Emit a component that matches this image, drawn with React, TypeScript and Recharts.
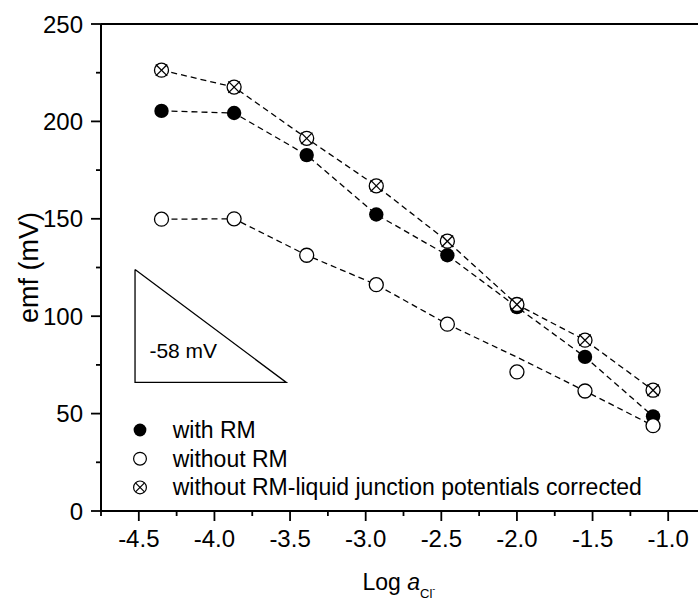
import { ComposedChart, Line, XAxis, YAxis, Legend, ReferenceDot, ReferenceLine } from 'recharts';

const FONT = '"Liberation Sans", Arial, Helvetica, sans-serif';

// log activity of chloride
const logA = [-4.35, -3.87, -3.39, -2.93, -2.46, -2.0, -1.55, -1.1];
// emf values (mV)
const withRM = [205.4, 204.3, 182.7, 152.2, 131.3, 104.7, 79.1, 48.6];
const withoutRM = [149.8, 150.0, 131.3, 116.2, 95.9, 71.4, 61.6, 43.8];
// dashed guide for "without RM" skips the outlier at -2.0
const withoutRMGuide = [149.8, 150.0, 131.3, 116.2, 95.9, 79.0, 61.6, 43.8];
const corrected = [226.3, 217.6, 191.3, 166.9, 138.5, 106.0, 87.7, 62.0];

const seriesNames = ['with RM', 'without RM', 'without RM-liquid junction potentials corrected'];

// -58 mV/decade slope triangle
const triangleX = [-4.525, -4.525, -3.525, -4.525];
const triangleY = [124, 66, 66, 124];
const slopeText = '-58 mV';
const slopeTextX = -4.43;
const slopeTextY = 78.3;

const xTicks = [-4.75, -4.5, -4.25, -4.0, -3.75, -3.5, -3.25, -3.0, -2.75, -2.5, -2.25, -2.0, -1.75, -1.5, -1.25, -1.0, -0.75];
const yTicks = [0, 25, 50, 75, 100, 125, 150, 175, 200, 225, 250];

const data = logA.map((x, i) => ({
  x,
  withRM: withRM[i],
  withoutRM: withoutRM[i],
  withoutRMGuide: withoutRMGuide[i],
  corrected: corrected[i],
}));

const triangle = triangleX.map((x, i) => ({ x, y: triangleY[i] }));

const XTick = ({ x, y, payload }: any) => {
  const v = payload.value;
  const major = Math.abs(v * 2 - Math.round(v * 2)) < 1e-6;
  return (
    <g>
      <line x1={x} x2={x} y1={y} y2={y + (major ? 10 : 5)} stroke="#000" strokeWidth={1.8} />
      {major && (
        <text x={x} y={y + 36} textAnchor="middle" fontSize={24} fontFamily={FONT} fill="#000">
          {v.toFixed(1)}
        </text>
      )}
    </g>
  );
};

const YTick = ({ x, y, payload }: any) => {
  const v = payload.value;
  const major = v % 50 === 0;
  return (
    <g>
      <line x1={x - (major ? 10 : 5)} x2={x} y1={y} y2={y} stroke="#000" strokeWidth={1.8} />
      {major && (
        <text x={x - 18} y={y + 8.5} textAnchor="end" fontSize={24} fontFamily={FONT} fill="#000">
          {v}
        </text>
      )}
    </g>
  );
};

const XTitle = ({ viewBox }: any) => {
  const cx = viewBox.x + viewBox.width / 2;
  return (
    <text x={cx - 41} y={viewBox.y + 79} fontSize={23} fontFamily={FONT} fill="#000">
      Log <tspan fontStyle="italic">a</tspan>
      <tspan fontSize={13} dy={8}>Cl</tspan>
      <tspan fontSize={9} dy={-6}>-</tspan>
    </text>
  );
};

const YTitle = ({ viewBox }: any) => {
  const cy = viewBox.y + viewBox.height / 2;
  const cx = 38;
  return (
    <text
      x={cx}
      y={cy}
      transform={`rotate(-90, ${cx}, ${cy})`}
      textAnchor="middle"
      fontSize={27}
      fontFamily={FONT}
      fill="#000"
    >
      emf (mV)
    </text>
  );
};

const SlopeLabel = ({ viewBox }: any) => (
  <text x={viewBox.x} y={viewBox.y} fontSize={21} fontFamily={FONT} fill="#000">
    {slopeText}
  </text>
);

const filledDot = (p: any) => <circle key={`f${p.index}`} cx={p.cx} cy={p.cy} r={7.2} fill="#000" />;

const openDot = (p: any) => (
  <circle key={`o${p.index}`} cx={p.cx} cy={p.cy} r={7} fill="#fff" stroke="#000" strokeWidth={1.3} />
);

const crossedDot = (p: any) => {
  const r = 7;
  const d = r * 0.82;
  return (
    <g key={`c${p.index}`}>
      <circle cx={p.cx} cy={p.cy} r={r} fill="#fff" stroke="#000" strokeWidth={1.3} />
      <line x1={p.cx - d} y1={p.cy - d} x2={p.cx + d} y2={p.cy + d} stroke="#000" strokeWidth={1.3} />
      <line x1={p.cx - d} y1={p.cy + d} x2={p.cx + d} y2={p.cy - d} stroke="#000" strokeWidth={1.3} />
    </g>
  );
};

const LegendBox = () => {
  const rowH = 28.7;
  const r = 6.4;
  const d = r * 0.7;
  return (
    <svg width={570} height={90} style={{ overflow: 'visible', display: 'block' }}>
      {seriesNames.map((name, i) => {
        const cy = 15 + i * rowH;
        return (
          <g key={name}>
            {i === 0 && <circle cx={12} cy={cy} r={r} fill="#000" />}
            {i === 1 && <circle cx={12} cy={cy} r={r} fill="#fff" stroke="#000" strokeWidth={1.2} />}
            {i === 2 && (
              <g>
                <circle cx={12} cy={cy} r={r} fill="#fff" stroke="#000" strokeWidth={1.2} />
                <line x1={12 - d} y1={cy - d} x2={12 + d} y2={cy + d} stroke="#000" strokeWidth={1.2} />
                <line x1={12 - d} y1={cy + d} x2={12 + d} y2={cy - d} stroke="#000" strokeWidth={1.2} />
              </g>
            )}
            <text x={44.7} y={cy + 8} fontSize={23} fontFamily={FONT} fill="#000">
              {name}
            </text>
          </g>
        );
      })}
    </svg>
  );
}

export default function App() {
  return (
    <div
      style={{
        position: 'absolute',
        left: 0,
        top: 0,
        width: 698,
        height: 600,
        overflow: 'hidden',
        background: '#fff',
        fontFamily: FONT,
      }}
    >
      <ComposedChart width={718} height={600} data={data} margin={{ top: 24, right: 12, left: 0, bottom: 0 }}>
        <XAxis
          dataKey="x"
          type="number"
          domain={[-4.75, -0.75]}
          allowDataOverflow
          ticks={xTicks}
          interval={0}
          tick={<XTick />}
          tickLine={false}
          tickSize={0}
          tickMargin={0}
          height={89}
          axisLine={{ stroke: '#000', strokeWidth: 2 }}
          label={<XTitle />}
        />
        <YAxis
          type="number"
          domain={[0, 250]}
          allowDataOverflow
          ticks={yTicks}
          interval={0}
          tick={<YTick />}
          tickLine={false}
          tickSize={0}
          tickMargin={0}
          width={101}
          axisLine={{ stroke: '#000', strokeWidth: 2 }}
          label={<YTitle />}
        />
        {/* top frame line */}
        <ReferenceLine y={250} stroke="#000" strokeWidth={2} />
        <Legend
          layout="vertical"
          align="center"
          verticalAlign="middle"
          wrapperStyle={{ left: 128, top: 415, width: 570, height: 90 }}
          content={<LegendBox />}
        />

        {/* slope triangle */}
        <Line
          data={triangle}
          dataKey="y"
          type="linear"
          stroke="#000"
          strokeWidth={1.3}
          dot={false}
          activeDot={false}
          legendType="none"
          isAnimationActive={false}
        />
        <ReferenceDot x={slopeTextX} y={slopeTextY} r={0} fill="none" stroke="none" label={<SlopeLabel />} />

        {/* markers */}
        <Line dataKey="withRM" stroke="none" dot={filledDot} activeDot={false} isAnimationActive={false} />
        <Line dataKey="withoutRM" stroke="none" dot={openDot} activeDot={false} isAnimationActive={false} />
        <Line dataKey="corrected" stroke="none" dot={crossedDot} activeDot={false} isAnimationActive={false} />

        {/* dashed connecting lines, drawn over the markers */}
        <Line
          dataKey="withRM"
          type="linear"
          stroke="#000"
          strokeWidth={1.3}
          strokeDasharray="6 4"
          dot={false}
          activeDot={false}
          isAnimationActive={false}
        />
        <Line
          dataKey="withoutRMGuide"
          type="linear"
          stroke="#000"
          strokeWidth={1.3}
          strokeDasharray="6 4"
          dot={false}
          activeDot={false}
          isAnimationActive={false}
        />
        <Line
          dataKey="corrected"
          type="linear"
          stroke="#000"
          strokeWidth={1.3}
          strokeDasharray="6 4"
          dot={false}
          activeDot={false}
          isAnimationActive={false}
        />
      </ComposedChart>
    </div>
  );
}
